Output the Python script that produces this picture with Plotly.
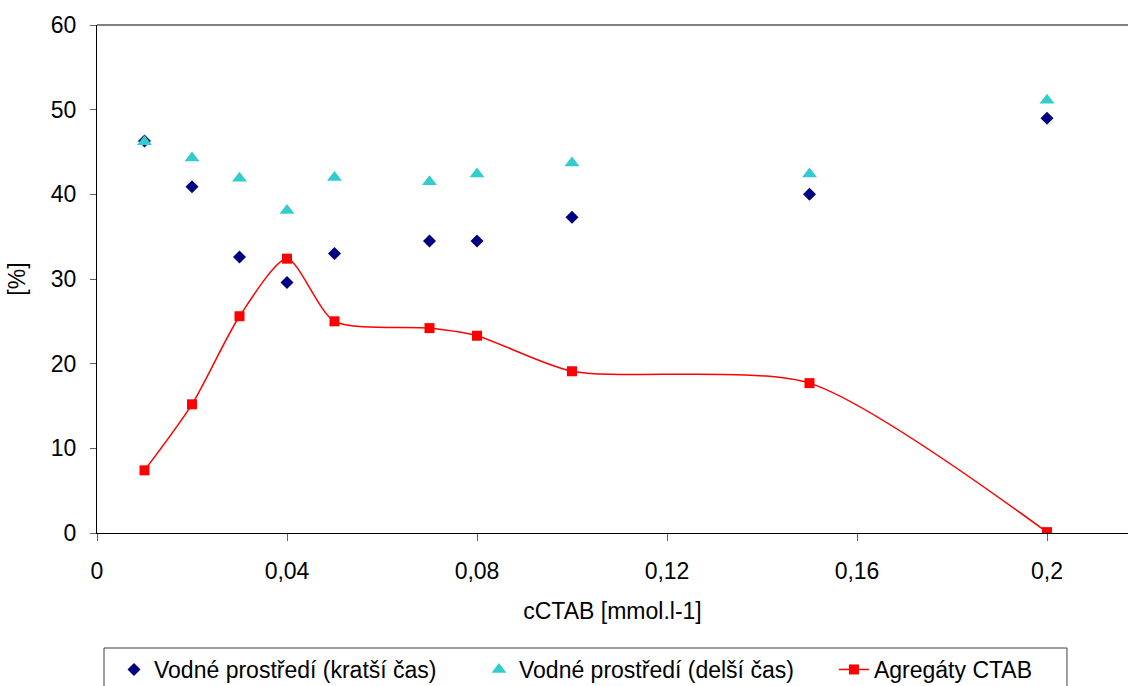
import plotly.graph_objects as go

# Data
c_ctab = [0.01, 0.02, 0.03, 0.04, 0.05, 0.07, 0.08, 0.10, 0.15, 0.20]
kratsi_cas = [46.3, 40.9, 32.6, 29.6, 33.0, 34.5, 34.5, 37.3, 40.0, 49.0]
delsi_cas = [46.2, 44.3, 41.9, 38.1, 42.0, 41.5, 42.4, 43.7, 42.4, 51.1]
agregaty = [7.4, 15.2, 25.6, 32.4, 25.0, 24.2, 23.3, 19.1, 17.7, 0.1]

names = ["Vodné prostředí (kratší čas)", "Vodné prostředí (delší čas)", "Agregáty CTAB"]
x_title = "cCTAB [mmol.l-1]"
y_title = "[%]"

FONT = "Arial, Liberation Sans, sans-serif"
FS = 23

fig = go.Figure()
fig.add_trace(go.Scatter(
    x=c_ctab, y=kratsi_cas, mode="markers", name=names[0], legend="legend",
    marker=dict(symbol="diamond", size=10, color="#000080"),
))
fig.add_trace(go.Scatter(
    x=c_ctab, y=delsi_cas, mode="markers", name=names[1], legend="legend2",
    marker=dict(symbol="triangle-up", size=13, color="#33CCCC"),
))
fig.add_trace(go.Scatter(
    x=c_ctab, y=agregaty, mode="lines+markers", name=names[2], legend="legend3",
    line=dict(color="#FF0000", width=1.5, shape="spline", smoothing=0.7),
    marker=dict(symbol="square", size=10, color="#FF0000"),
))

LEG_Y = -0.2264


def leg(xpos):
    return dict(
        orientation="h", x=xpos, xanchor="left", y=LEG_Y, yanchor="top",
        borderwidth=0, bgcolor="rgba(0,0,0,0)",
        font=dict(family=FONT, size=FS, color="black"),
        itemwidth=30,
    )


fig.update_layout(
    width=1128, height=686,
    margin=dict(l=97, r=0, t=25, b=153, autoexpand=False),
    paper_bgcolor="white", plot_bgcolor="white",
    separators=", ",
    font=dict(family=FONT, size=FS, color="black"),
    showlegend=True,
    legend=leg(0.0165),
    legend2=leg(0.3705),
    legend3=leg(0.7148),
    xaxis=dict(
        range=[0, (1128 - 97) / 4750], dtick=0.04, tick0=0,
        showgrid=False, zeroline=False,
        showline=True, linecolor="black", linewidth=1,
        ticks="outside", ticklen=7, tickcolor="#606060",
        tickfont=dict(family=FONT, size=FS), ticklabelstandoff=10,
        title=dict(text=x_title, font=dict(family=FONT, size=FS), standoff=20),
    ),
    yaxis=dict(
        range=[0, 60], dtick=10,
        showgrid=False, zeroline=False,
        showline=True, linecolor="black", linewidth=1,
        ticks="outside", ticklen=6, tickcolor="#606060",
        tickfont=dict(family=FONT, size=FS), ticklabelstandoff=9,
        title=dict(text=y_title, font=dict(family=FONT, size=FS), standoff=18),
    ),
    shapes=[
        dict(type="line", xref="paper", yref="paper", x0=0, x1=1, y0=1, y1=1,
             line=dict(color="#808080", width=2)),
        dict(type="rect", xref="paper", yref="paper", x0=0.00679, x1=0.9408,
             y0=LEG_Y, y1=-0.45, line=dict(color="#404040", width=1),
             fillcolor="rgba(0,0,0,0)"),
    ],
)

fig.write_html("out.html")
